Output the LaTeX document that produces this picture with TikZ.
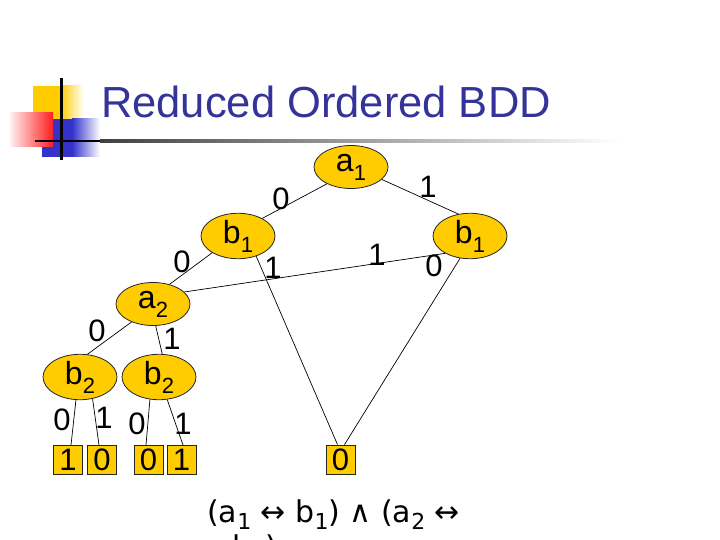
\documentclass[tikz,border=0pt]{standalone}
\usepackage{fontspec}
\setmainfont{Liberation Sans}
\newfontfamily\verd{DejaVu Sans}
\usetikzlibrary{shapes.geometric}
\definecolor{gold}{RGB}{255,204,0}
\definecolor{navy}{RGB}{51,51,153}
\definecolor{dblue}{RGB}{51,51,204}
\definecolor{rred}{RGB}{255,30,30}
\newcommand\sbs[1]{\raisebox{-0.28em}{\fontsize{22}{22}\selectfont #1}}
\newcommand\fsbs[1]{\raisebox{-0.25em}{\fontsize{22}{22}\selectfont #1}}
\tikzset{
  bddnode/.style={ellipse, draw=black!85, line width=0.8pt, fill=gold, minimum width=74pt, minimum height=43pt, inner sep=0pt, font=\fontsize{32}{32}\selectfont},
  term/.style={rectangle, draw=black!85, line width=0.8pt, fill=gold, minimum width=29pt, minimum height=29pt, inner sep=0pt, font=\fontsize{31}{31}\selectfont},
  edge/.style={line width=0.7pt, black},
  lbl/.style={font=\fontsize{31}{31}\selectfont, inner sep=0pt},
  formula/.style={anchor=base west, inner sep=0pt, font=\verd\fontsize{30}{30}\selectfont}
}
\begin{document}
\begin{tikzpicture}[x=1pt,y=-1pt]
\useasboundingbox (0,0) rectangle (720,540);
% title decoration
\fill[gold] (33,86) rectangle (60,119);
\shade[left color=gold, right color=white] (60,86) rectangle (84,119);
\fill[dblue] (42,119) rectangle (72,157);
\shade[left color=dblue, right color=white] (72,119) rectangle (100,157);
\shade[left color=red!6, right color=rred] (10,113) rectangle (53,147);
\fill[black] (35,139.7) rectangle (100,142.5);
\shade[left color=black!75, right color=white] (100,139.7) rectangle (620,142.5);
\fill[black] (59.8,78) rectangle (62.5,160);
\node[anchor=base west, inner sep=0pt, text=navy, font=\fontsize{43.5}{43.5}\selectfont] (title) at (101,118) {Reduced Ordered BDD};
% nodes
\node[bddnode] (a1) at (351,167) {a\sbs{1}};
\node[bddnode] (b1L) at (238,236) {b\sbs{1}};
\node[bddnode] (b1R) at (470,236) {b\sbs{1}};
\node[bddnode] (a2) at (153,304) {a\sbs{2}};
\node[bddnode] (b2L) at (80,377) {b\sbs{2}};
\node[bddnode] (b2R) at (159,377) {b\sbs{2}};
\node[term] (t1) at (68,460) {1};
\node[term] (t2) at (102,460) {0};
\node[term] (t3) at (148.5,460) {0};
\node[term] (t4) at (181.5,460) {1};
\node[term] (t0) at (340.5,459.5) {0};
% edges
\draw[edge] (a1.215) -- (b1L.36);
\draw[edge] (a1.338) -- (b1R.118);
\draw[edge] (b1L.213) -- (a2.50);
\draw[edge] (b1L.312) -- ([xshift=-3pt]t0.north);
\draw[edge] (b1R.215) -- (a2.21);
\draw[edge] (b1R.246) -- ([xshift=4pt]t0.north);
\draw[edge] (a2.220) -- (b2L.72);
\draw[edge] (a2.277) -- (b2R.82);
\draw[edge] (b2L.260) -- ([xshift=3pt]t1.north);
\draw[edge] (b2L.300) -- ([xshift=-3pt]t2.north);
\draw[edge] (b2R.248) -- ([xshift=-2.5pt]t3.north);
\draw[edge] (b2R.290) -- ([xshift=1.5pt]t4.north);
% edge labels
\node[lbl] (l1) at (281,199) {0};
\node[lbl] (l2) at (428,187) {1};
\node[lbl] (l3) at (182,262) {0};
\node[lbl] (l4) at (273,268) {1};
\node[lbl] (l5) at (377,255) {1};
\node[lbl] (l6) at (434,266) {0};
\node[lbl] (l7) at (97,331) {0};
\node[lbl] (l8) at (172,339) {1};
\node[lbl] (l9) at (62,420) {0};
\node[lbl] (l10) at (104,418) {1};
\node[lbl] (l11) at (137,424) {0};
\node[lbl] (l12) at (183,424) {1};
% formula
\node[formula] (f1) at (207,522) {(a\fsbs{1} ↔ b\fsbs{1}) ∧ (a\fsbs{2} ↔};
\node[formula] (f2) at (232,557) {b\fsbs{2})};
\end{tikzpicture}
\end{document}
